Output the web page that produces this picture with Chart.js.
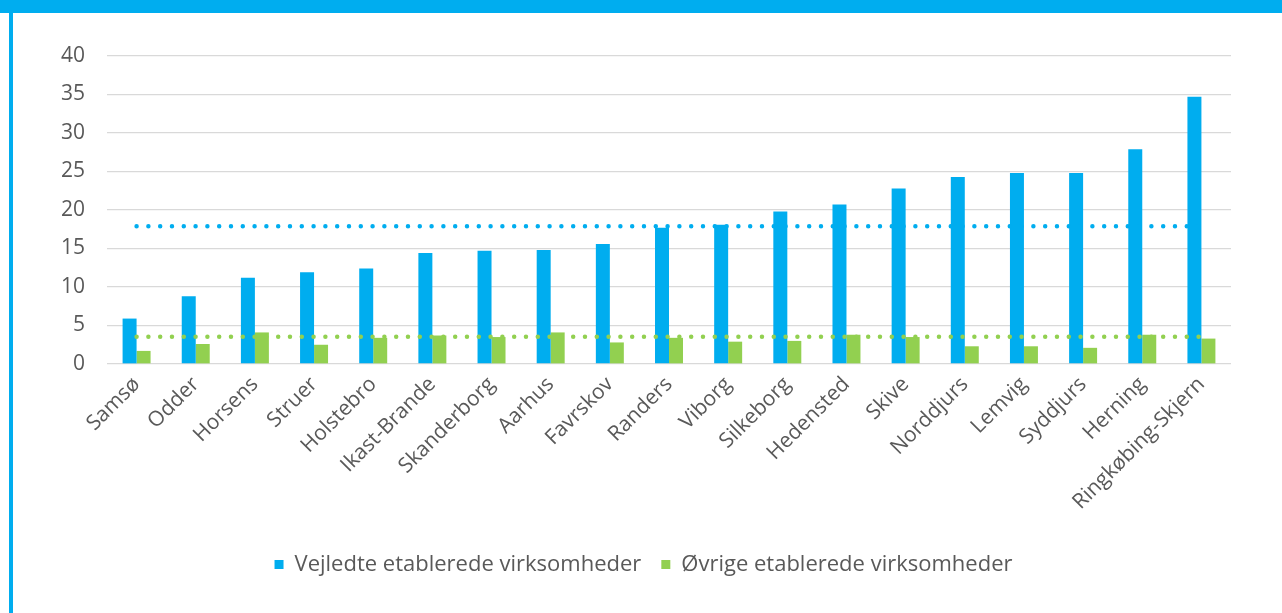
<!DOCTYPE html>
<html>
<head>
<meta charset="utf-8">
<script src="https://cdn.jsdelivr.net/npm/chart.js@4"></script>
<style>
  html, body { margin: 0; padding: 0; background: #ffffff; overflow: hidden; }
  #topband { position: absolute; left: 0; top: 0; width: 1282px; height: 13px; background: #00ADEF; }
  #leftband { position: absolute; left: 9px; top: 13px; width: 4px; height: 600px; background: #00ADEF; }
  #c { position: absolute; left: 0; top: 0; }
</style>
</head>
<body>
<div id="topband"></div>
<div id="leftband"></div>
<canvas id="c" width="1282" height="613"></canvas>
<script>
const categories = ["Samsø", "Odder", "Horsens", "Struer", "Holstebro", "Ikast-Brande", "Skanderborg", "Aarhus", "Favrskov", "Randers", "Viborg", "Silkeborg", "Hedensted", "Skive", "Norddjurs", "Lemvig", "Syddjurs", "Herning", "Ringkøbing-Skjern"];
const vejledte = [5.9, 8.8, 11.2, 11.9, 12.4, 14.4, 14.7, 14.8, 15.6, 17.7, 18.1, 19.8, 20.7, 22.8, 24.3, 24.8, 24.8, 27.9, 34.7];
const ovrige = [1.7, 2.6, 4.1, 2.5, 3.4, 3.7, 3.5, 4.1, 2.8, 3.4, 2.9, 3.0, 3.8, 3.5, 2.3, 2.3, 2.1, 3.8, 3.3];
const gnsVejledte = [17.9, 17.9, 17.9, 17.9, 17.9, 17.9, 17.9, 17.9, 17.9, 17.9, 17.9, 17.9, 17.9, 17.9, 17.9, 17.9, 17.9, 17.9, 17.9];
const gnsOvrige = [3.53, 3.53, 3.53, 3.53, 3.53, 3.53, 3.53, 3.53, 3.53, 3.53, 3.53, 3.53, 3.53, 3.53, 3.53, 3.53, 3.53, 3.53, 3.53];
const yTicks = [0, 5, 10, 15, 20, 25, 30, 35, 40];
const seriesNames = ["Vejledte etablerede virksomheder", "Øvrige etablerede virksomheder"];

const BLUE = "#00ADEF";
const GREEN = "#92D050";
const TEXT = "#595959";
const FONT = "'Open Sans', 'DejaVu Sans', sans-serif";

const legendShift = {
  id: "legendShift",
  afterLayout(chart) {
    if (chart.legend) { chart.legend.left += 8; chart.legend.right += 8; }
  }
};

new Chart(document.getElementById("c"), {
  data: {
    labels: categories,
    datasets: [
      { type: "line", label: "gns1", data: gnsVejledte, borderColor: BLUE, borderWidth: 4.5,
        borderDash: [0, 11.8], borderCapStyle: "round", pointRadius: 0, fill: false, order: 0 },
      { type: "line", label: "gns2", data: gnsOvrige, borderColor: GREEN, borderWidth: 4.5,
        borderDash: [0, 11.8], borderCapStyle: "round", pointRadius: 0, fill: false, order: 0 },
      { type: "bar", label: seriesNames[0], data: vejledte, backgroundColor: BLUE, borderWidth: 0,
        categoryPercentage: 0.473, barPercentage: 1.0, order: 1 },
      { type: "bar", label: seriesNames[1], data: ovrige, backgroundColor: GREEN, borderWidth: 0,
        categoryPercentage: 0.473, barPercentage: 1.0, order: 1 }
    ]
  },
  plugins: [legendShift],
  options: {
    responsive: false,
    animation: false,
    devicePixelRatio: 1,
    layout: { padding: { left: 40, right: 51, top: 56, bottom: 27.5 } },
    plugins: {
      tooltip: { enabled: false },
      legend: {
        position: "bottom",
        labels: {
          filter: (item) => seriesNames.includes(item.text),
          color: TEXT,
          font: { family: FONT, size: 22 },
          boxWidth: 9,
          boxHeight: 9,
          padding: 20
        }
      }
    },
    scales: {
      x: {
        grid: { display: false, drawTicks: false },
        border: { display: false },
        ticks: { color: TEXT, font: { family: FONT, size: 21 }, minRotation: 45, maxRotation: 45,
                 autoSkip: false, padding: 8 },
        afterFit: (s) => { s.height = 169.5; }
      },
      y: {
        min: 0, max: 40,
        afterBuildTicks: (s) => { s.ticks = yTicks.map(v => ({ value: v })); },
        grid: { color: "#D9D9D9", lineWidth: 1.3, drawTicks: false },
        border: { display: false },
        ticks: { color: TEXT, font: { family: FONT, size: 21 }, padding: 22 },
        afterFit: (s) => { s.width = 67; }
      }
    }
  }
});
</script>
</body>
</html>
